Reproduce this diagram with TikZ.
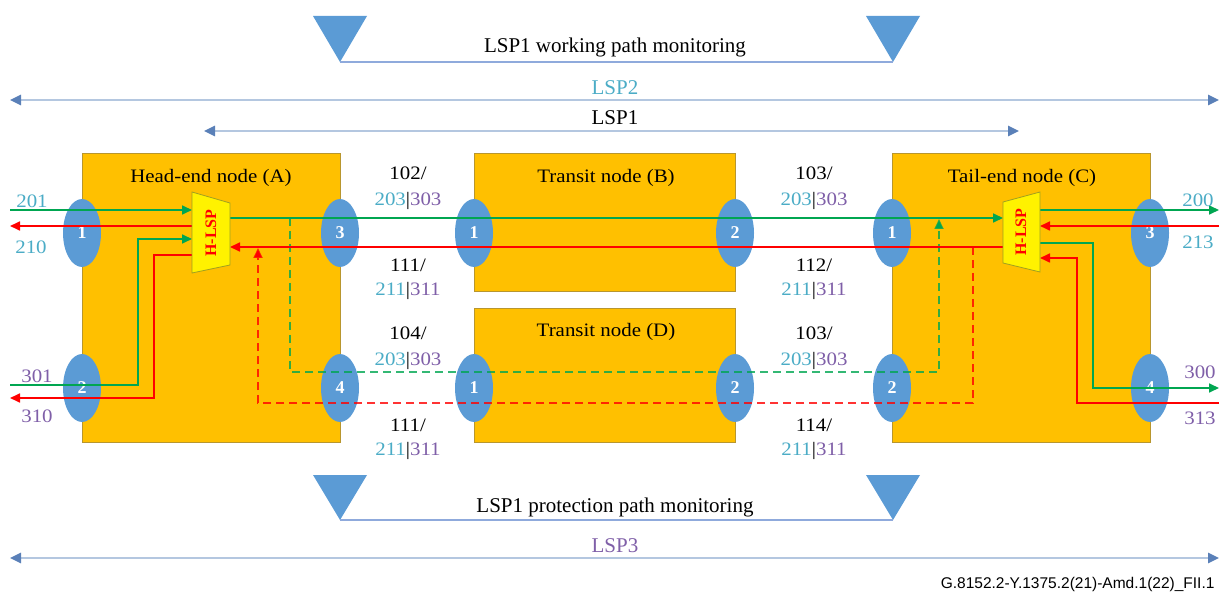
\documentclass[tikz,border=0pt]{standalone}
\usepackage{fontspec}
\setmainfont{Liberation Serif}
\newfontfamily\wfont{Liberation Serif}[FakeStretch=1.1]
\newfontfamily\footfont{Liberation Sans}
\usetikzlibrary{arrows.meta,shapes.geometric}
\definecolor{boxfill}{HTML}{FFC000}
\definecolor{boxline}{HTML}{B8962E}
\definecolor{portblue}{HTML}{5B9BD5}
\definecolor{lcyan}{HTML}{4BACC6}
\definecolor{lpurple}{HTML}{7F5FA8}
\definecolor{sgreen}{HTML}{00A651}
\definecolor{sred}{HTML}{FF0000}
\definecolor{lspline}{HTML}{B4C7E0}
\definecolor{lsphead}{HTML}{5A80B8}
\definecolor{monline}{HTML}{8FAADC}
\definecolor{trapline}{HTML}{A0A020}
\tikzset{
  nodebox/.style={draw=boxline, fill=boxfill, line width=0.9pt, inner sep=0pt, anchor=north west},
  port/.style={ellipse, fill=portblue, minimum width=38pt, minimum height=68pt, inner sep=0pt,
    text=white, font=\bfseries\fontsize{18}{18}\selectfont},
  title/.style={anchor=base, font=\wfont\fontsize{19}{22}\selectfont},
  lbl/.style={font=\wfont\fontsize{19}{22}\selectfont},
  hlsp/.style={rotate=90, text=sred, font=\bfseries\fontsize{16}{16}\selectfont, inner sep=0pt},
  trap/.style={fill=yellow, draw=trapline, line width=0.8pt},
  sig/.style={line width=1.7pt},
  tip/.style={-{Triangle[length=10pt,width=9pt]}},
  gline/.style={sig, color=sgreen},
  rline/.style={sig, color=sred},
  dashline/.style={dash pattern=on 8pt off 5pt, draw opacity=0.8},
  lsparrow/.style={draw=lspline, line width=2.5pt,
    {Triangle[length=11pt,width=10pt,color=lsphead]}-{Triangle[length=11pt,width=10pt,color=lsphead]}},
  mon/.style={anchor=base, font=\fontsize{21}{24}\selectfont},
  monline/.style={draw=monline, line width=2.5pt},
  montri/.style={fill=portblue}
}
\begin{document}
\begin{tikzpicture}[x=1pt,y=-1pt]
\useasboundingbox (0,0) rectangle (1220,593);

% ---------- top monitoring ----------
\fill[montri] (313,16) -- (367,16) -- (340,62) -- cycle;
\fill[montri] (866,16) -- (920,16) -- (893,62) -- cycle;
\coordinate (wml) at (340,62);
\coordinate (wmr) at (893,62);
\draw[monline] (wml) -- (wmr);
\node[mon] (wmt) at (615,53) {LSP1 working path monitoring};

% ---------- LSP arrows ----------
\coordinate (lsp2l) at (10,100);
\coordinate (lsp2r) at (1219,100);
\draw[lsparrow] (lsp2l) -- (lsp2r);
\node[font=\fontsize{21}{24}\selectfont, text=lcyan] (lsp2t) at (615,88) {LSP2};
\coordinate (lsp1l) at (204,131);
\coordinate (lsp1r) at (1019,131);
\draw[lsparrow] (lsp1l) -- (lsp1r);
\node[font=\fontsize{21}{24}\selectfont] (lsp1t) at (615,118) {LSP1};

% ---------- boxes ----------
\node[nodebox, minimum width=258pt, minimum height=289pt] (A) at (82,153) {};
\node[nodebox, minimum width=261pt, minimum height=138pt] (B) at (474,153) {};
\node[nodebox, minimum width=261pt, minimum height=134pt] (D) at (474,308) {};
\node[nodebox, minimum width=258pt, minimum height=289pt] (C) at (892,153) {};

\node[title] (tA) at (211,183) {Head-end node (A)};
\node[title] (tB) at (606,183) {Transit node (B)};
\node[title] (tD) at (606,337) {Transit node (D)};
\node[title] (tC) at (1022,183) {Tail-end node (C)};

% ---------- ports ----------
\node[port] (A1) at (82,233) {1};
\node[port] (A3) at (340,233) {3};
\node[port] (A2) at (82,388) {2};
\node[port] (A4) at (340,388) {4};
\node[port] (B1) at (474,233) {1};
\node[port] (B2) at (735,233) {2};
\node[port] (D1) at (474,388) {1};
\node[port] (D2) at (735,388) {2};
\node[port] (C1) at (892,233) {1};
\node[port] (C3) at (1150,233) {3};
\node[port] (C2) at (892,388) {2};
\node[port] (C4) at (1150,388) {4};

% ---------- endpoint coordinates ----------
\coordinate (a1in) at (10,210);
\coordinate (a1out) at (10,226);
\coordinate (a2in) at (10,385);
\coordinate (a2out) at (10,398);
\coordinate (c3out) at (1219,210);
\coordinate (c3in) at (1219,226);
\coordinate (c4out) at (1219,388);
\coordinate (c4in) at (1219,403);

% ---------- dashed protection paths ----------
\draw[gline, dashline, tip] (290,218) -- (290,372) -- (939,372) -- (939,219);
\draw[rline, dashline, tip] (973,247) -- (973,403) -- (258,403) -- (258,248);

% ---------- working paths ----------
\draw[gline, tip] (230,218) -- (1003,218);
\draw[rline, tip] (1003,247) -- (230,247);

% ---------- head-end local ----------
\draw[gline, tip] (a1in) -- (192,210);
\draw[rline, tip] (192,226) -- (a1out);
\draw[gline, tip] (a2in) -- (138,385) -- (138,239) -- (192,239);
\draw[rline, tip] (192,255) -- (154,255) -- (154,398) -- (a2out);

% ---------- tail-end local ----------
\draw[gline, tip] (1040,210) -- (c3out);
\draw[rline, tip] (c3in) -- (1040,226);
\draw[gline, tip] (1040,243) -- (1093,243) -- (1093,388) -- (c4out);
\draw[rline, tip] (c4in) -- (1077,403) -- (1077,258) -- (1040,258);

% ---------- H-LSP selectors ----------
\filldraw[trap] (192,192) -- (230,203) -- (230,265) -- (192,273) -- cycle;
\node[hlsp] (hA) at (211,233) {H-LSP};
\filldraw[trap] (1003,202) -- (1040,192) -- (1040,272) -- (1003,263) -- cycle;
\node[hlsp] (hC) at (1021,232) {H-LSP};

% ---------- port labels ----------
\node[lbl, text=lcyan] (l201) at (32,201) {201};
\node[lbl, text=lcyan] (l210) at (31,247) {210};
\node[lbl, text=lpurple] (l301) at (37,376) {301};
\node[lbl, text=lpurple] (l310) at (37,416) {310};
\node[lbl, text=lcyan] (l200) at (1198,200) {200};
\node[lbl, text=lcyan] (l213) at (1198,242) {213};
\node[lbl, text=lpurple] (l300) at (1200,372) {300};
\node[lbl, text=lpurple] (l313) at (1200,418) {313};

% ---------- link labels ----------
\node[lbl, anchor=base] (ab1) at (408,180) {102/};
\node[lbl, anchor=base] (ab2) at (408,206) {\textcolor{lcyan}{203}|\textcolor{lpurple}{303}};
\node[lbl, anchor=base] (ab3) at (408,272) {111/};
\node[lbl, anchor=base] (ab4) at (408,296) {\textcolor{lcyan}{211}|\textcolor{lpurple}{311}};
\node[lbl, anchor=base] (ad1) at (408,340) {104/};
\node[lbl, anchor=base] (ad2) at (408,365) {\textcolor{lcyan}{203}|\textcolor{lpurple}{303}};
\node[lbl, anchor=base] (ad3) at (408,431) {111/};
\node[lbl, anchor=base] (ad4) at (408,455) {\textcolor{lcyan}{211}|\textcolor{lpurple}{311}};
\node[lbl, anchor=base] (bc1) at (814,180) {103/};
\node[lbl, anchor=base] (bc2) at (814,206) {\textcolor{lcyan}{203}|\textcolor{lpurple}{303}};
\node[lbl, anchor=base] (bc3) at (814,272) {112/};
\node[lbl, anchor=base] (bc4) at (814,296) {\textcolor{lcyan}{211}|\textcolor{lpurple}{311}};
\node[lbl, anchor=base] (dc1) at (814,340) {103/};
\node[lbl, anchor=base] (dc2) at (814,365) {\textcolor{lcyan}{203}|\textcolor{lpurple}{303}};
\node[lbl, anchor=base] (dc3) at (814,431) {114/};
\node[lbl, anchor=base] (dc4) at (814,455) {\textcolor{lcyan}{211}|\textcolor{lpurple}{311}};

% ---------- bottom monitoring ----------
\fill[montri] (313,475) -- (367,475) -- (340,520) -- cycle;
\fill[montri] (866,475) -- (920,475) -- (893,520) -- cycle;
\coordinate (pml) at (340,520);
\coordinate (pmr) at (893,520);
\draw[monline] (pml) -- (pmr);
\node[mon] (pmt) at (615,512) {LSP1 protection path monitoring};

\coordinate (lsp3l) at (10,558);
\coordinate (lsp3r) at (1219,558);
\draw[lsparrow] (lsp3l) -- (lsp3r);
\node[font=\fontsize{21}{24}\selectfont, text=lpurple] (lsp3t) at (615,546) {LSP3};

\node[anchor=base east, font=\footfont\fontsize{15.5}{18}\selectfont] (foot) at (1218,588) {G.8152.2-Y.1375.2(21)-Amd.1(22)\_FII.1};
\end{tikzpicture}
\end{document}
